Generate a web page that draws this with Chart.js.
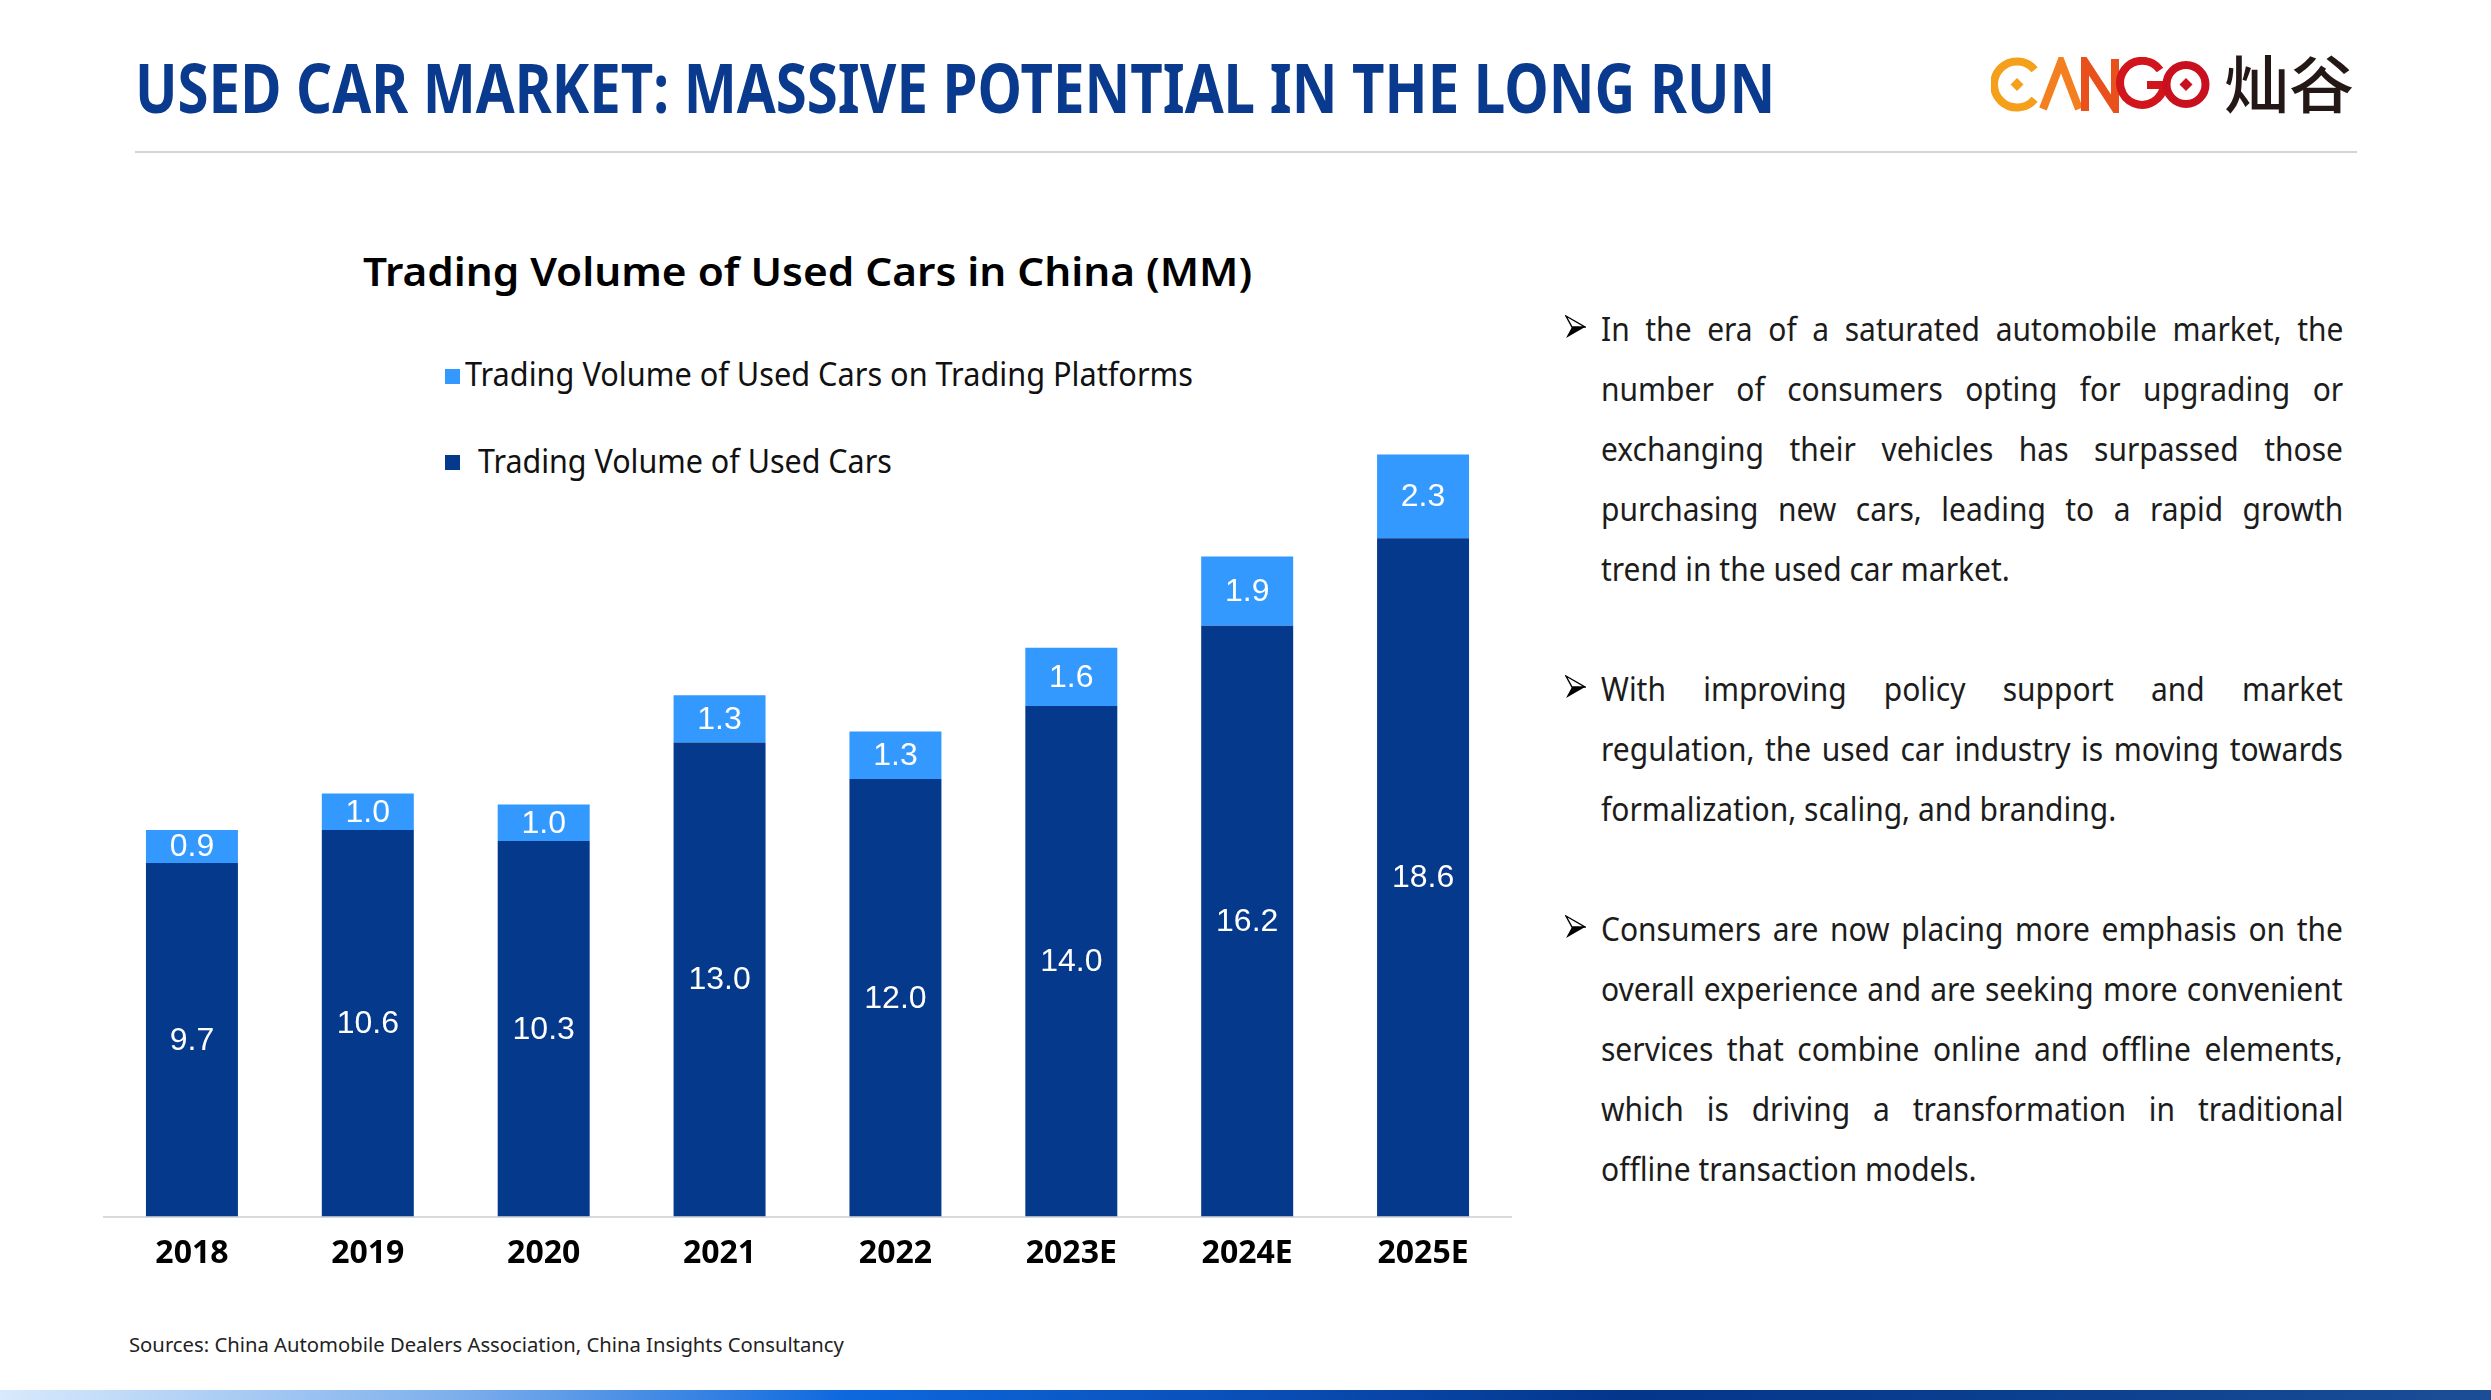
<!DOCTYPE html>
<html><head><meta charset="utf-8">
<script src="https://cdn.jsdelivr.net/npm/chart.js@4.4.1/dist/chart.umd.min.js"></script>
<style>
html,body{margin:0;padding:0;background:#fff;}
body{width:2491px;height:1400px;position:relative;overflow:hidden;font-family:"Noto Sans",sans-serif;}
.abs{position:absolute;white-space:nowrap;line-height:1;transform-origin:0 0;}
#title{left:135px;top:53px;font-size:68px;font-weight:700;color:#0a3a8d;}
#sep{position:absolute;left:135px;top:151px;width:2222px;height:2px;background:#d4d4d4;}
#ctitle{left:363px;top:251px;font-size:40px;font-weight:600;color:#000;}
.lg-sq{position:absolute;width:15px;height:15px;}
.lg-tx{font-size:32px;color:#111;}
.line{font-size:33px;color:#1c1c1c;}
#src{left:129px;top:1335px;font-size:20px;color:#222;}
#bar{position:absolute;left:0;top:1390px;width:2491px;height:10px;
 background:linear-gradient(90deg,#d8eafc 0%,#7fb0ec 18%,#0d68de 34%,#0a4fb8 50%,#04368c 65%,#0b3f8f 82%,#1b4e96 100%);}
#cv{position:absolute;left:60px;top:300px;}
#cn{left:2224px;top:50px;font-family:"Noto Sans CJK SC",sans-serif;font-size:62px;font-weight:500;color:#231815;}
</style></head>
<body>
<div id="title" class="abs" data-w="1640">USED CAR MARKET: MASSIVE POTENTIAL IN THE LONG RUN</div>
<svg style="position:absolute;left:1991px;top:57px" width="220" height="56" viewBox="0 0 220 56">
  <path d="M43.6 12.7 A23 23 0 1 0 43.6 42.3" fill="none" stroke="#f5a01a" stroke-width="8"/>
  <polygon points="26,21 32.5,27.5 26,34 19.5,27.5" fill="#f5a01a"/>
  <polyline points="52,52 70,5 88,52" fill="none" stroke="#f47f20" stroke-width="8" stroke-linejoin="miter"/>
  <polyline points="94,54 94,5 124,51 124,2" fill="none" stroke="#e8501c" stroke-width="8"/>
  <path d="M169 13 A22 22 0 1 0 173 28 L156 28" fill="none" stroke="#d2141c" stroke-width="8"/>
  <circle cx="195" cy="27.5" r="19.5" fill="none" stroke="#c8101e" stroke-width="8"/>
  <polygon points="195,21 201.5,27.5 195,34 188.5,27.5" fill="#c8101e"/>
</svg>
<div id="cn" class="abs" data-w="130">灿谷</div>
<div id="sep"></div>
<div id="ctitle" class="abs" data-w="889">Trading Volume of Used Cars in China (MM)</div>
<div id="legend"></div>
<canvas id="cv" width="1500" height="1000"></canvas>
<div id="notes"></div>
<div id="src" class="abs" data-w="715">Sources: China Automobile Dealers Association, China Insights Consultancy</div>
<div id="bar"></div>
<script>
const categories = ['2018','2019','2020','2021','2022','2023E','2024E','2025E'];
const usedCarVolume = [9.7, 10.6, 10.3, 13.0, 12.0, 14.0, 16.2, 18.6];
const platformVolume = [0.9, 1.0, 1.0, 1.3, 1.3, 1.6, 1.9, 2.3];
const seriesNames = ['Trading Volume of Used Cars', 'Trading Volume of Used Cars on Trading Platforms'];
const seriesColors = ['#05398c', '#3399ff'];
const noteParagraphs = [
  ['In the era of a saturated automobile market, the',
   'number of consumers opting for upgrading or',
   'exchanging their vehicles has surpassed those',
   'purchasing new cars, leading to a rapid growth',
   'trend in the used car market.'],
  ['With improving policy support and market',
   'regulation, the used car industry is moving towards',
   'formalization, scaling, and branding.'],
  ['Consumers are now placing more emphasis on the',
   'overall experience and are seeking more convenient',
   'services that combine online and offline elements,',
   'which is driving a transformation in traditional',
   'offline transaction models.']
];

const valueLabels = {
  id:'valueLabels',
  afterDatasetsDraw(chart){
    const ctx = chart.ctx;
    ctx.save();
    ctx.fillStyle = '#ffffff';
    ctx.font = '32px "Liberation Sans", Arial, sans-serif';
    ctx.textAlign = 'center';
    ctx.textBaseline = 'middle';
    chart.data.datasets.forEach((ds, di) => {
      const meta = chart.getDatasetMeta(di);
      meta.data.forEach((el, i) => {
        const y = (el.y + el.base) / 2;
        ctx.fillText(Number(ds.data[i]).toFixed(1), el.x, y + 1);
      });
    });
    ctx.restore();
  }
};

const chart = new Chart(document.getElementById('cv'), {
  type:'bar',
  data:{
    labels:categories,
    datasets:[
      {label:seriesNames[0], data:usedCarVolume, backgroundColor:seriesColors[0], stack:'s'},
      {label:seriesNames[1], data:platformVolume, backgroundColor:seriesColors[1], stack:'s'}
    ]
  },
  options:{
    responsive:false, animation:false, devicePixelRatio:1,
    layout:{padding:{left:44, right:49, top:118, bottom:9}},
    plugins:{legend:{display:false}, title:{display:false}, tooltip:{enabled:false}},
    datasets:{bar:{categoryPercentage:1, barPercentage:0.523, borderWidth:0}},
    scales:{
      x:{stacked:true,
         grid:{display:false, drawTicks:false},
         border:{display:true, color:'#d9d9d9', width:2},
         ticks:{font:{family:'Noto Sans', size:32, weight:'bold'}, color:'#000', padding:18}},
      y:{stacked:true, display:false, min:0, max:21.9}
    }
  },
  plugins:[valueLabels]
});

// Legend (platform series first, as in the source)
const legend = document.getElementById('legend');
const lgPos = [{sq:[445,369], tx:[465,358], w:728}, {sq:[445,455], tx:[478,445], w:414}];
[1,0].forEach((di, k) => {
  const ds = chart.data.datasets[di];
  const sq = document.createElement('div');
  sq.className = 'lg-sq';
  sq.style.left = lgPos[k].sq[0] + 'px'; sq.style.top = lgPos[k].sq[1] + 'px';
  sq.style.background = ds.backgroundColor;
  legend.appendChild(sq);
  const tx = document.createElement('div');
  tx.className = 'abs lg-tx';
  tx.style.left = lgPos[k].tx[0] + 'px'; tx.style.top = lgPos[k].tx[1] + 'px';
  tx.dataset.w = lgPos[k].w;
  tx.textContent = ds.label;
  legend.appendChild(tx);
});

// Notes
const notes = document.getElementById('notes');
const arrowSvg = '<svg width="21" height="24" viewBox="0 0 21 24"><polygon points="1,1 20,12 7,12" fill="#fff" stroke="#000" stroke-width="1.4" stroke-linejoin="miter"/><polygon points="7,12 20,12 1,23" fill="#000"/></svg>';
let k = 0;
const lineEls = [];
noteParagraphs.forEach((p) => {
  const a = document.createElement('div');
  a.style.position = 'absolute'; a.style.left = '1565px'; a.style.top = (315 + 60*k) + 'px';
  a.innerHTML = arrowSvg;
  notes.appendChild(a);
  p.forEach((t, j) => {
    const d = document.createElement('div');
    d.className = 'abs line';
    d.style.left = '1601px';
    d.style.top = (341 + 60*k - 29.3) + 'px';
    d.textContent = t;
    d.dataset.just = (j < p.length - 1) ? '1' : '0';
    notes.appendChild(d);
    lineEls.push(d);
    k++;
  });
  k++;
});

function layoutText(){
  document.querySelectorAll('[data-w]').forEach(el => {
    el.style.transform = 'none';
    const w = el.offsetWidth;
    el.style.transform = 'scaleX(' + (parseFloat(el.dataset.w) / w) + ')';
  });
  lineEls.forEach(el => { el.style.transform = 'none'; el.style.wordSpacing = 'normal'; });
  const targets = {'trend in the used car market.':409, 'formalization, scaling, and branding.':516, 'offline transaction models.':375};
  let nat = 0, tgt = 0;
  lineEls.forEach(el => { if (targets[el.textContent]) { nat += el.offsetWidth; tgt += targets[el.textContent]; } });
  const s = tgt / nat;
  const full = 742 / s;
  lineEls.forEach(el => {
    if (el.dataset.just === '1') {
      const w = el.offsetWidth;
      const spaces = (el.textContent.match(/ /g) || []).length;
      el.style.wordSpacing = ((full - w) / spaces) + 'px';
    }
    el.style.transform = 'scaleX(' + s + ')';
  });
}
if (document.fonts && document.fonts.ready) { document.fonts.ready.then(layoutText); }
layoutText();
</script>
</body></html>
